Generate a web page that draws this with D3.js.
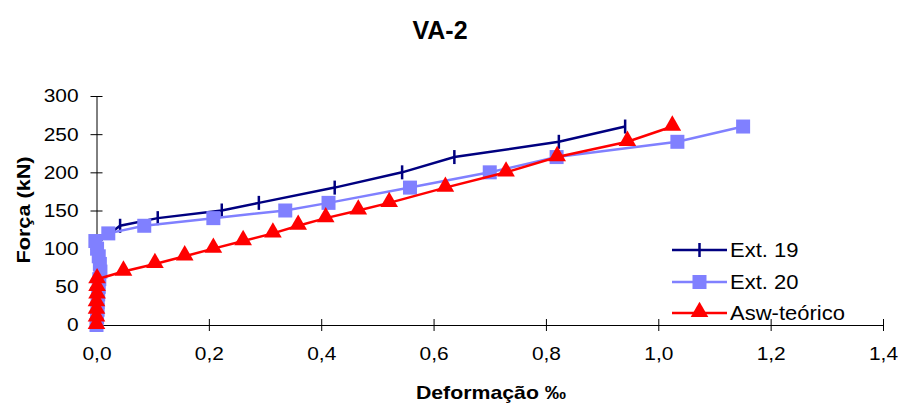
<!DOCTYPE html>
<html><head><meta charset="utf-8">
<script src="https://cdn.jsdelivr.net/npm/d3@7"></script>
<style>body{margin:0;background:#fff}svg{display:block}text{font-family:"Liberation Sans",Arial,sans-serif}</style>
</head><body>
<svg id="c" width="901" height="406"></svg>
<script>
const title = "VA-2";
const xLabel = "Deformação ‰";
const yLabel = "Força (kN)";
const xTicks = [0,0.2,0.4,0.6,0.8,1.0,1.2,1.4];
const yTicks = [0,50,100,150,200,250,300];
const seriesNames = ["Ext. 19","Ext. 20","Asw-teórico"];
const ext19Load = [0,10,20,30,40,50,60,70,80,90,100,110,130,140,150,160,180,200,220,240,260];
const ext19Strain = [0,0,0.001,0.001,0.002,0.003,0.004,0.005,0.007,0.006,0.003,0.006,0.042,0.109,0.223,0.289,0.424,0.544,0.637,0.823,0.941];
const ext20Load = [0,10,20,30,40,50,60,70,80,90,100,110,120,130,140,150,160,180,200,220,240,260];
const ext20Strain = [0,0.001,0.002,0.002,0.003,0.004,0.005,0.007,0.006,0.004,0.001,-0.002,0.021,0.085,0.208,0.336,0.413,0.558,0.700,0.819,1.034,1.151];
const aswLoad = [0,10,20,30,40,50,60,70,80,90,100,110,120,130,140,150,160,180,200,220,240,260];
const aswStrain = [0,0,0,0,0.001,0.001,0.001,0.048,0.104,0.157,0.208,0.261,0.314,0.359,0.408,0.466,0.521,0.621,0.729,0.820,0.945,1.025];

const svg = d3.select("#c");
const x = d3.scaleLinear().domain([0,1.4]).range([96.5,883]);
const y = d3.scaleLinear().domain([0,300]).range([325,96]);
const fmt = d => d3.format(".1f")(d).replace(".", ",");

function stretch(sel, k){
  sel.each(function(){
    const w = this.getComputedTextLength();
    d3.select(this).attr("textLength", w*k).attr("lengthAdjust","spacingAndGlyphs");
  });
}

// axes
const xa = svg.append("g").attr("transform","translate(0,"+y(0)+")")
  .call(d3.axisBottom(x).tickValues(xTicks).tickFormat(fmt).tickSizeInner(6).tickSizeOuter(0).tickPadding(16));
xa.selectAll(".tick line").attr("y1",-6).attr("y2",6);
const ya = svg.append("g").attr("transform","translate("+x(0)+",0)")
  .call(d3.axisLeft(y).tickValues(yTicks).tickSizeInner(6).tickSizeOuter(0).tickPadding(12));
ya.selectAll(".tick line").attr("x1",6).attr("x2",-6);
[xa,ya].forEach(a=>{
  a.selectAll("path,line").attr("stroke","#000").attr("stroke-width",1);
  a.selectAll("text").attr("font-size",18.5).attr("fill","#000").attr("font-family","Liberation Sans, Arial, sans-serif");
});
xa.selectAll("text").attr("dy","0.71em");
stretch(xa.selectAll("text"),1.13);
stretch(ya.selectAll("text"),1.13);

svg.append("text").attr("x",440).attr("y",39).attr("text-anchor","middle")
  .attr("font-size",25).attr("font-weight","bold").text(title);
const xt = svg.append("text").attr("x",491).attr("y",399).attr("text-anchor","middle")
  .attr("font-size",19).attr("font-weight","bold").text(xLabel);
stretch(xt,1.12);
const yt = svg.append("text").attr("transform","translate(30,210) rotate(-90)").attr("text-anchor","middle")
  .attr("font-size",19).attr("font-weight","bold").text(yLabel);
stretch(yt,1.14);

const line = d3.line().x(d=>x(d[0])).y(d=>y(d[1]));
const colors = ["#000080","#8080FF","#FF0000"];
const data = [
  d3.zip(ext19Strain, ext19Load),
  d3.zip(ext20Strain, ext20Load),
  d3.zip(aswStrain, aswLoad)
];
const tri = d3.symbol().type(d3.symbolTriangle).size(135);

function marker(g, i, px, py){
  if(i===0){
    g.append("line").attr("x1",px).attr("x2",px).attr("y1",py-7).attr("y2",py+7)
      .attr("stroke",colors[0]).attr("stroke-width",2.5);
  } else if(i===1){
    g.append("rect").attr("x",px-7).attr("y",py-7).attr("width",14).attr("height",14)
      .attr("fill",colors[1]);
  } else {
    g.append("path").attr("d",tri).attr("transform","translate("+px+","+(py-1)+")")
      .attr("fill",colors[2]);
  }
}

data.forEach((ser,i)=>{
  const g = svg.append("g");
  g.append("path").datum(ser).attr("d",line).attr("fill","none")
    .attr("stroke",colors[i]).attr("stroke-width",2.5);
  ser.forEach(d=>marker(g,i,x(d[0]),y(d[1])));
});

// legend
const ly = [250,282,313];
seriesNames.forEach((n,i)=>{
  const g = svg.append("g");
  g.append("line").attr("x1",672).attr("x2",727).attr("y1",ly[i]).attr("y2",ly[i])
    .attr("stroke",colors[i]).attr("stroke-width",2.5);
  marker(g,i,699.5,ly[i]);
  const t = g.append("text").attr("x",730).attr("y",ly[i]).attr("dy","0.36em")
    .attr("font-size",20).text(n);
  stretch(t,1.1);
});
</script>
</body></html>
